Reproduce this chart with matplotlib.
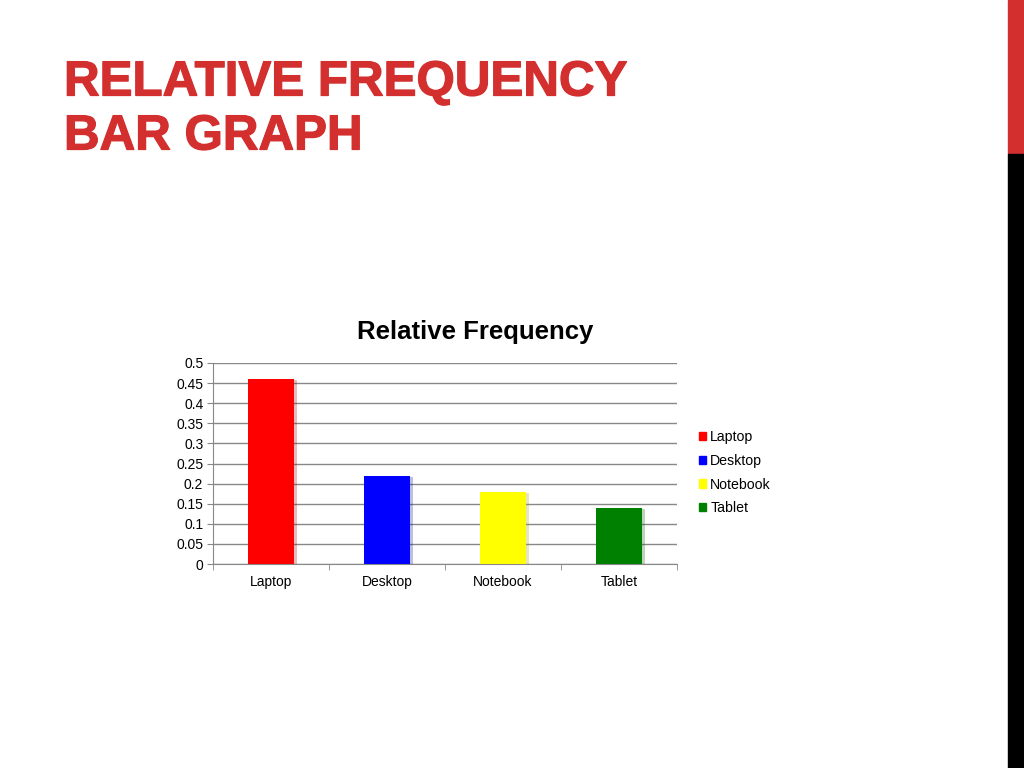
import matplotlib.pyplot as plt
import matplotlib.patheffects as pe
from matplotlib.patches import Rectangle

# chart data
categories = ['Laptop', 'Desktop', 'Notebook', 'Tablet']
rel_freq = [0.46, 0.22, 0.18, 0.14]
bar_colors = ['#ff0000', '#0000ff', '#ffff00', '#008000']
y_ticks = [0, 0.05, 0.1, 0.15, 0.2, 0.25, 0.3, 0.35, 0.4, 0.45, 0.5]
y_labels = ['0', '0.05', '0.1', '0.15', '0.2', '0.25', '0.3', '0.35', '0.4', '0.45', '0.5']

plt.rcParams['font.family'] = ['Liberation Sans', 'DejaVu Sans']

fig = plt.figure(figsize=(10.24, 7.68), dpi=100)
fig.patch.set_facecolor('white')

# slide title, thickened a bit with a stroke
red = '#d32f2f'
thick = [pe.withStroke(linewidth=0.9, foreground=red)]
fig.text(64 / 1024, 1 - 83 / 768, 'RELATIVE FREQUENCY', color=red,
         fontsize=35.5, fontweight='bold', va='center', ha='left', path_effects=thick)
fig.text(64 / 1024, 1 - 137 / 768, 'BAR GRAPH', color=red,
         fontsize=35.5, fontweight='bold', va='center', ha='left', path_effects=thick)

# right edge strip
fig.patches.append(Rectangle((1008 / 1024, 1 - 154 / 768), 16 / 1024, 154 / 768,
                             transform=fig.transFigure, color=red, zorder=0))
fig.patches.append(Rectangle((1008 / 1024, 0), 16 / 1024, 1 - 154 / 768,
                             transform=fig.transFigure, color='black', zorder=0))

ax = fig.add_axes([213 / 1024, 1 - 564 / 768, 464 / 1024, 201 / 768])
x = list(range(len(categories)))
bars = ax.bar(x, rel_freq, width=0.4, color=bar_colors, zorder=3)
for b in bars:
    b.set_path_effects([pe.SimplePatchShadow(offset=(2, -1), alpha=0.25, rho=0.6),
                        pe.Normal()])

ax.set_xlim(-0.5, 3.5)
ax.set_ylim(0, 0.5)
ax.set_yticks(y_ticks)
ax.set_yticklabels(y_labels)
ax.set_xticks(x)
ax.set_xticklabels(categories)
ax.set_xticks([-0.5, 0.5, 1.5, 2.5, 3.5], minor=True)
ax.tick_params(axis='x', which='major', length=0, labelsize=10, pad=8)
ax.tick_params(axis='x', which='minor', length=4, color='#888888')
ax.tick_params(axis='y', length=4, color='#888888', labelsize=10, pad=3)
ax.yaxis.grid(True, color='#888888', linewidth=1)
ax.set_axisbelow(True)
for s in ['top', 'right']:
    ax.spines[s].set_visible(False)
ax.spines['left'].set_color('#888888')
ax.spines['bottom'].set_color('#888888')

# chart title sits over the whole chart area (plot + legend)
fig.text(475 / 1024, 1 - 332 / 768, 'Relative Frequency', fontsize=18.5,
         fontweight='bold', ha='center', va='center')

handles = [Rectangle((0, 0), 1, 1, color=c) for c in bar_colors]
ax.legend(handles, categories, loc='center left', bbox_to_anchor=(1.02, 0.455),
          frameon=False, fontsize=10.2, handlelength=0.5, handleheight=0.5,
          handletextpad=0.3, labelspacing=0.7)

fig.savefig('out.png', dpi=100)
